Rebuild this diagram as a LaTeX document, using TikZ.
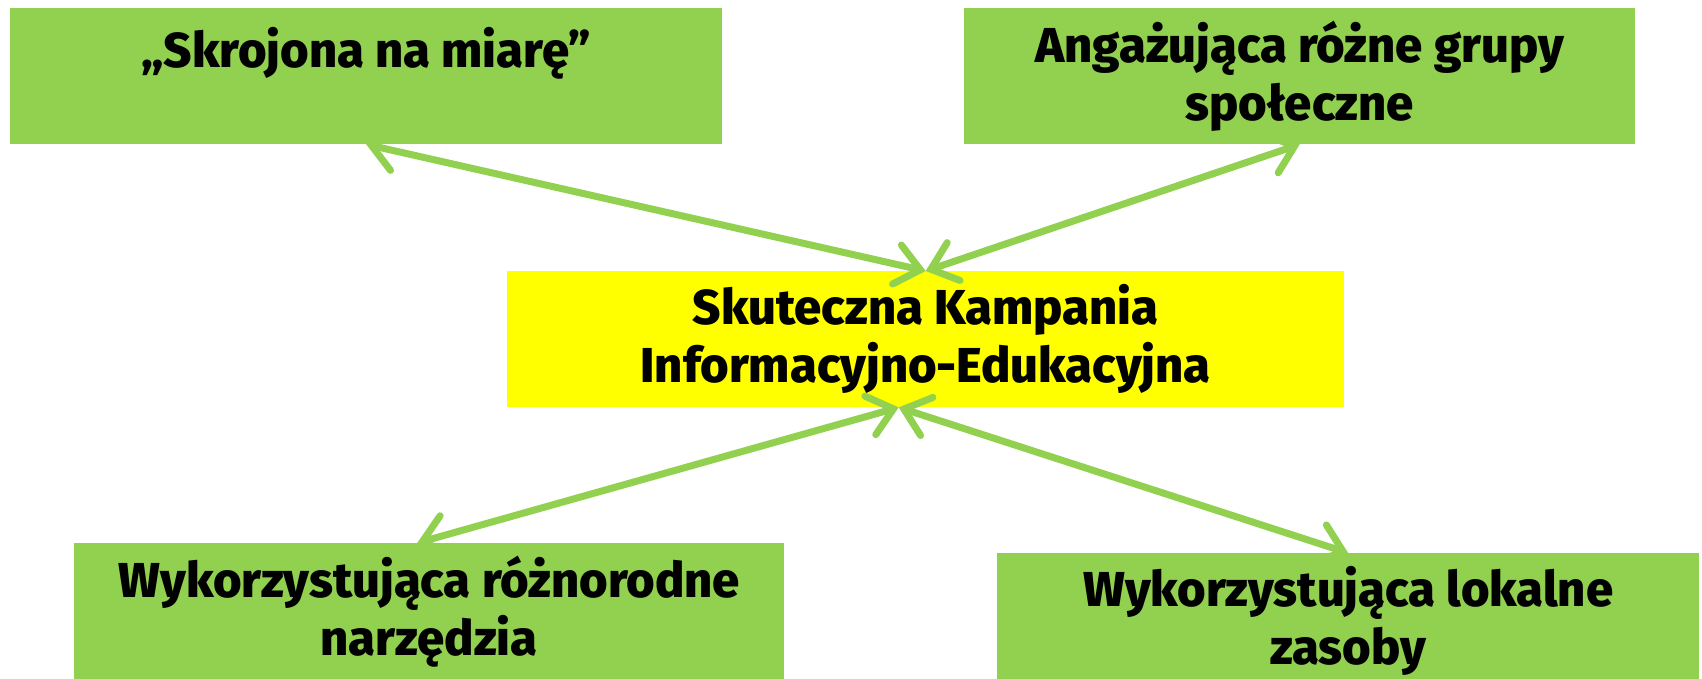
\documentclass[tikz,border=0pt]{standalone}
\usepackage{fontspec}
\setmainfont{Fira Sans}[BoldFont={Fira Sans ExtraBold}]
\usetikzlibrary{arrows.meta}
\definecolor{boxgreen}{HTML}{92D050}
\definecolor{boxyellow}{HTML}{FFFF00}

\begin{document}
\begin{tikzpicture}[x=1pt,y=-1pt,font=\fontsize{49}{58}\selectfont\bfseries]
\tikzstyle{box}=[fill=boxgreen,anchor=north west,minimum height=136pt,align=center,inner sep=0pt]
\tikzstyle{link}=[draw=boxgreen,line width=7pt,line cap=round,{Straight Barb[length=24pt,width=40pt,line cap=round]}-{Straight Barb[length=24pt,width=40pt,line cap=round]}]
\clip (0,0) rectangle (1702,679);

\node[box,minimum width=712pt] (tl) at (10,8) {„Skrojona na miarę”\\\mbox{}};
\node[box,minimum width=671pt] (tr) at (964,8) {Angażująca różne grupy\\społeczne};
\node[box,minimum width=837pt,fill=boxyellow] (ctr) at (507,271) {Skuteczna Kampania\\Informacyjno-Edukacyjna};
\node[box,minimum width=710pt] (bl) at (74,543) {Wykorzystująca różnorodne\\narzędzia};
\node[box,minimum width=702pt] (br) at (997,553) {Wykorzystująca lokalne\\zasoby};

\coordinate (ctrbot) at ([xshift=-27pt]ctr.south);
\coordinate (bltop) at ([xshift=-12pt]bl.north);

\draw[link] (tl.south) -- (ctr.north);
\draw[link] (tr.south) -- (ctr.north);
\draw[link] (bltop) -- (ctrbot);
\draw[link] (br.north) -- (ctrbot);
\end{tikzpicture}
\end{document}
